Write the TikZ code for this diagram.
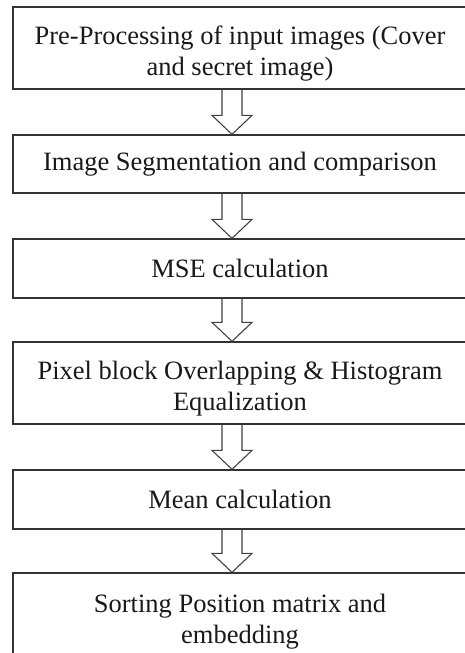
\documentclass[tikz,border=0pt]{standalone}
\usepackage{fontspec}
\setmainfont{Liberation Serif}
\usetikzlibrary{calc}

% hollow block arrow from the bottom of one stage to the top of the next
\newcommand{\flowarrow}[2]{%
  \draw[flow] let \p1 = (#1.south), \p2 = (#2.north) in
    (\x1-18,\y1) -- (\x1-18,\y2+19) -- (\x1-28,\y2+19) -- (\x1-8,\y2)
    -- (\x1+12,\y2+19) -- (\x1+2,\y2+19) -- (\x1+2,\y1);}

\begin{document}
\begin{tikzpicture}[x=1pt,y=1pt]
    \tikzset{stage/.style = {shape=rectangle, draw=black!80, line width=1.3pt, minimum width=454pt, inner sep=0pt, align=center, text=black!90, font=\fontsize{26.5}{31}\selectfont}}
    \tikzset{twoline/.style = {text height=60pt, text depth=6pt}}
    \tikzset{flow/.style = {draw=black!75, line width=1.1pt, line join=miter}}

    \useasboundingbox (0,0) rectangle (464,-653);

    % stages
    \node[stage, twoline, minimum height=82pt] (pre)  at (240,-48)    {Pre-Processing of input images (Cover\\and secret image)};
    \node[stage, minimum height=58pt] (seg)  at (240,-164)   {Image Segmentation and comparison};
    \node[stage, minimum height=59pt] (mse)  at (240,-268.5) {MSE calculation};
    \node[stage, twoline, minimum height=82pt] (pix)  at (240,-383)   {Pixel block Overlapping \& Histogram\\Equalization};
    \node[stage, minimum height=59pt] (mean) at (240,-499.5) {Mean calculation};
    \node[stage, twoline, minimum height=86pt] (sort) at (240,-616)   {Sorting Position matrix and\\embedding};

    % arrows
    \flowarrow{pre}{seg}
    \flowarrow{seg}{mse}
    \flowarrow{mse}{pix}
    \flowarrow{pix}{mean}
    \flowarrow{mean}{sort}
\end{tikzpicture}
\end{document}
